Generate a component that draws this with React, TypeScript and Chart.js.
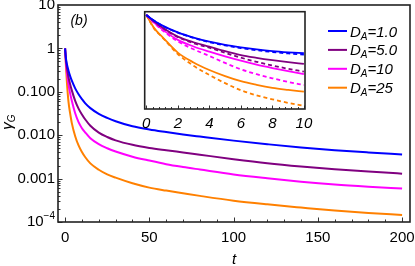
import React, { useEffect, useRef } from "react";
import { Chart, registerables } from "chart.js";
Chart.register(...registerables);

// ---------- data (main panel) ----------
const T_MAIN = [0, 0.5, 1, 2, 3, 4, 6, 8, 10, 12, 15, 20, 25, 30, 40, 50, 60, 70, 80, 100, 120, 140, 160, 180, 200];
const G_DA1 = [1, 0.6, 0.45, 0.31, 0.23, 0.18, 0.12, 0.088, 0.068, 0.054, 0.042, 0.031, 0.025, 0.021, 0.016, 0.0135, 0.0118, 0.0104, 0.0093, 0.0075, 0.0062, 0.0052, 0.0045, 0.004, 0.0036];
const G_DA5 = [1, 0.55, 0.38, 0.22, 0.15, 0.108, 0.062, 0.041, 0.03, 0.023, 0.0165, 0.0115, 0.0091, 0.0076, 0.006, 0.0051, 0.0045, 0.004, 0.00355, 0.0028, 0.00226, 0.0019, 0.00164, 0.00146, 0.0013];
const G_DA10 = [1, 0.48, 0.29, 0.15, 0.092, 0.062, 0.032, 0.02, 0.0145, 0.0115, 0.0085, 0.0062, 0.005, 0.0042, 0.0032, 0.0026, 0.00215, 0.00185, 0.00162, 0.00125, 0.00102, 0.00085, 0.00073, 0.00065, 0.00059];
const G_DA25 = [1, 0.4, 0.186, 0.06, 0.032, 0.019, 0.0095, 0.0058, 0.0041, 0.0031, 0.00224, 0.0016, 0.00125, 0.00105, 0.00078, 0.00062, 0.00053, 0.00046, 0.0004, 0.00031, 0.000255, 0.000215, 0.000183, 0.000161, 0.000145];

// ---------- data (inset) ----------
const T_INSET = [0, 0.5, 1, 2, 3, 4, 5, 6, 7, 8, 9, 10];
const IN_DA1_SOLID = [1, 0.94, 0.89, 0.815, 0.76, 0.716, 0.682, 0.656, 0.634, 0.616, 0.603, 0.593];
const IN_DA1_DASH = [1, 0.94, 0.888, 0.812, 0.756, 0.711, 0.676, 0.648, 0.625, 0.606, 0.591, 0.578];
const IN_DA5_SOLID = [1, 0.93, 0.87, 0.77, 0.71, 0.663, 0.615, 0.574, 0.545, 0.52, 0.498, 0.479];
const IN_DA5_DASH = [1, 0.93, 0.865, 0.765, 0.7, 0.652, 0.597, 0.546, 0.502, 0.463, 0.428, 0.397];
const IN_DA10_SOLID = [1, 0.92, 0.85, 0.735, 0.665, 0.61, 0.56, 0.514, 0.472, 0.436, 0.403, 0.372];
const IN_DA10_DASH = [1, 0.915, 0.84, 0.72, 0.635, 0.564, 0.49, 0.422, 0.37, 0.327, 0.288, 0.255];
const IN_DA25_SOLID = [1, 0.86, 0.77, 0.6, 0.495, 0.415, 0.35, 0.296, 0.257, 0.225, 0.203, 0.184];
const IN_DA25_DASH = [1, 0.855, 0.765, 0.585, 0.46, 0.362, 0.275, 0.2, 0.145, 0.103, 0.065, 0.035];

// ---------- labels / ticks ----------
const DA_VALUES = ["1.0", "5.0", "10", "25"];
const COLORS = ["#0000ff", "#800080", "#ff00ff", "#ff8000"];
const X_TICKS = [0, 50, 100, 150, 200];
const Y_TICKS = [1e-4, 1e-3, 1e-2, 0.1, 1, 10];
const Y_TICK_LABELS = ["", "0.001", "0.010", "0.100", "1", "10"];
const INSET_X_TICKS = [0, 2, 4, 6, 8, 10];

const FONT = "'Liberation Sans', Arial, Helvetica, sans-serif";

function pts(xs: number[], ys: number[]) {
  return xs.map((x, i) => ({ x, y: ys[i] }));
}

const mainDecor = {
  id: "mainDecor",
  afterDraw(chart: any) {
    const { ctx, chartArea: a, scales } = chart;
    const xs = scales.x;
    const ys = scales.y;
    ctx.save();
    // inward ticks
    ctx.strokeStyle = "#333";
    ctx.lineWidth = 1;
    ctx.beginPath();
    for (let v = 0; v <= 200; v += 10) {
      const px = Math.round(xs.getPixelForValue(v)) + 0.5;
      const len = v % 50 === 0 ? 4.5 : 2.5;
      ctx.moveTo(px, a.bottom);
      ctx.lineTo(px, a.bottom - len);
    }
    for (let e = -4; e <= 0; e++) {
      for (let m = 1; m <= 9; m++) {
        const v = m * Math.pow(10, e);
        const py = Math.round(ys.getPixelForValue(v)) + 0.5;
        const len = m === 1 ? 4.5 : 2.5;
        ctx.moveTo(a.left, py);
        ctx.lineTo(a.left + len, py);
      }
    }
    ctx.stroke();
    // frame
    ctx.lineWidth = 1.6;
    ctx.strokeStyle = "#222";
    ctx.strokeRect(a.left, a.top, a.right - a.left, a.bottom - a.top);

    // 10^-4 label
    ctx.fillStyle = "#000";
    ctx.textBaseline = "middle";
    ctx.textAlign = "left";
    const py4 = ys.getPixelForValue(1e-4);
    ctx.font = `15px ${FONT}`;
    const w1 = ctx.measureText("10").width;
    ctx.font = `10px ${FONT}`;
    const w2 = ctx.measureText("\u22124").width;
    const x0 = a.left - 3 - w1 - w2;
    ctx.font = `15px ${FONT}`;
    ctx.fillText("10", x0, py4);
    ctx.font = `10px ${FONT}`;
    ctx.fillText("\u22124", x0 + w1, py4 - 6);

    // y-axis title gamma_G
    ctx.save();
    ctx.translate(12, 122);
    ctx.rotate(-Math.PI / 2);
    ctx.textBaseline = "alphabetic";
    ctx.font = `italic 15px ${FONT}`;
    const gw = ctx.measureText("\u03b3").width;
    ctx.font = `italic 10px ${FONT}`;
    const sw = ctx.measureText("G").width;
    const sx = -(gw + sw) / 2;
    ctx.font = `italic 15px ${FONT}`;
    ctx.fillText("\u03b3", sx, 0);
    ctx.font = `italic 10px ${FONT}`;
    ctx.fillText("G", sx + gw, 3);
    ctx.restore();

    // panel label
    ctx.font = `italic 14px ${FONT}`;
    ctx.textAlign = "center";
    ctx.textBaseline = "middle";
    ctx.fillText("(b)", 79, 21);

    // legend
    ctx.textAlign = "left";
    ctx.textBaseline = "alphabetic";
    for (let i = 0; i < DA_VALUES.length; i++) {
      const cy = 31 + i * 18.9;
      ctx.strokeStyle = COLORS[i];
      ctx.lineWidth = 2;
      ctx.beginPath();
      ctx.moveTo(328, cy);
      ctx.lineTo(347, cy);
      ctx.stroke();
      ctx.fillStyle = "#000";
      const base = cy + 5.5;
      let tx = 350;
      ctx.font = `italic 15px ${FONT}`;
      ctx.fillText("D", tx, base);
      tx += ctx.measureText("D").width;
      ctx.font = `italic 10px ${FONT}`;
      ctx.fillText("A", tx, base + 3);
      tx += ctx.measureText("A").width;
      ctx.font = `italic 15px ${FONT}`;
      ctx.fillText("=" + DA_VALUES[i], tx, base);
    }
    ctx.restore();
  },
};

const insetDecor = {
  id: "insetDecor",
  afterDraw(chart: any) {
    const { ctx, chartArea: a, scales } = chart;
    const xs = scales.x;
    ctx.save();
    ctx.strokeStyle = "#333";
    ctx.lineWidth = 1;
    ctx.beginPath();
    for (let k = 0; k <= 25; k++) {
      const v = k * 0.4;
      const px = Math.round(xs.getPixelForValue(v)) + 0.5;
      const len = k % 5 === 0 ? 3.5 : 2;
      ctx.moveTo(px, a.bottom);
      ctx.lineTo(px, a.bottom - len);
    }
    ctx.stroke();
    ctx.lineWidth = 1.6;
    ctx.strokeStyle = "#222";
    ctx.strokeRect(a.left, a.top, a.right - a.left, a.bottom - a.top);
    ctx.restore();
  },
};

const insetBg = {
  id: "insetBg",
  beforeDraw(chart: any) {
    const { ctx, chartArea: a } = chart;
    ctx.save();
    ctx.fillStyle = "#fff";
    ctx.fillRect(a.left, a.top, a.right - a.left, a.bottom - a.top);
    ctx.restore();
  },
};

export default function App() {
  const mainRef = useRef<HTMLCanvasElement>(null);
  const insetRef = useRef<HTMLCanvasElement>(null);

  useEffect(() => {
    const mainSeries = [G_DA1, G_DA5, G_DA10, G_DA25];
    const main = new Chart(mainRef.current as HTMLCanvasElement, {
      type: "line",
      data: {
        datasets: mainSeries.map((s, i) => ({
          label: "D_A=" + DA_VALUES[i],
          data: pts(T_MAIN, s),
          borderColor: COLORS[i],
          borderWidth: 2,
          pointRadius: 0,
          fill: false,
          cubicInterpolationMode: "monotone" as const,
        })),
      },
      options: {
        animation: false,
        responsive: false,
        devicePixelRatio: 1,
        layout: { padding: { left: 0, top: 5, right: 5, bottom: 0 } },
        plugins: { legend: { display: false }, tooltip: { enabled: false } },
        scales: {
          x: {
            type: "linear",
            min: -4.2,
            max: 204.7,
            grid: { display: false, drawTicks: false },
            border: { display: false },
            afterBuildTicks: (s: any) => {
              s.ticks = X_TICKS.map((v) => ({ value: v }));
            },
            afterFit: (s: any) => {
              s.height = 44;
              s.paddingLeft = 0;
              s.paddingRight = 0;
            },
            ticks: {
              padding: 7,
              color: "#000",
              font: { family: FONT, size: 15 },
              maxRotation: 0,
              callback: (v: any) => String(v),
            },
            title: {
              display: true,
              text: "t",
              color: "#000",
              font: { family: FONT, size: 15, style: "italic", lineHeight: 0.8 },
              padding: { top: 0, bottom: 0 },
            },
          },
          y: {
            type: "logarithmic",
            min: 1e-4,
            max: 10,
            grid: { display: false, drawTicks: false },
            border: { display: false },
            afterBuildTicks: (s: any) => {
              s.ticks = Y_TICKS.map((v) => ({ value: v }));
            },
            afterFit: (s: any) => {
              s.width = 58;
              s.paddingTop = 0;
              s.paddingBottom = 0;
            },
            ticks: {
              padding: 3,
              color: "#000",
              font: { family: FONT, size: 15 },
              callback: (v: any) => {
                const idx = Y_TICKS.findIndex((t) => Math.abs(t - v) / t < 1e-6);
                return idx >= 0 ? Y_TICK_LABELS[idx] : "";
              },
            },
          },
        },
      },
      plugins: [mainDecor],
    } as any);

    const insetSolid = [IN_DA1_SOLID, IN_DA5_SOLID, IN_DA10_SOLID, IN_DA25_SOLID];
    const insetDash = [IN_DA1_DASH, IN_DA5_DASH, IN_DA10_DASH, IN_DA25_DASH];
    const insetSets: any[] = [];
    for (let i = 0; i < 4; i++) {
      insetSets.push({
        data: pts(T_INSET, insetDash[i]),
        borderColor: COLORS[i],
        borderWidth: 1.8,
        borderDash: [4, 3],
        pointRadius: 0,
        fill: false,
        cubicInterpolationMode: "monotone",
      });
      insetSets.push({
        data: pts(T_INSET, insetSolid[i]),
        borderColor: COLORS[i],
        borderWidth: 1.8,
        pointRadius: 0,
        fill: false,
        cubicInterpolationMode: "monotone",
      });
    }
    const inset = new Chart(insetRef.current as HTMLCanvasElement, {
      type: "line",
      data: { datasets: insetSets },
      options: {
        animation: false,
        responsive: false,
        devicePixelRatio: 1,
        layout: { padding: { left: 14.7, top: 11.7, right: 10, bottom: 0 } },
        plugins: { legend: { display: false }, tooltip: { enabled: false } },
        scales: {
          x: {
            type: "linear",
            min: -0.1,
            max: 10.07,
            grid: { display: false, drawTicks: false },
            border: { display: false },
            afterBuildTicks: (s: any) => {
              s.ticks = INSET_X_TICKS.map((v) => ({ value: v }));
            },
            afterFit: (s: any) => {
              s.height = 31;
              s.paddingLeft = 0;
              s.paddingRight = 0;
            },
            ticks: {
              padding: 6,
              color: "#000",
              font: { family: FONT, size: 15, style: "italic" },
              maxRotation: 0,
              callback: (v: any) => String(v),
            },
          },
          y: {
            type: "linear",
            min: 0,
            max: 1.035,
            display: false,
          },
        },
      },
      plugins: [insetBg, insetDecor],
    } as any);

    return () => {
      main.destroy();
      inset.destroy();
    };
  }, []);

  return (
    <div style={{ position: "fixed", left: 0, top: 0, width: 415, height: 266, background: "#fff" }}>
      <canvas
        ref={mainRef}
        width={415}
        height={266}
        style={{ position: "absolute", left: 0, top: 0, width: 415, height: 266 }}
      />
      <canvas
        ref={insetRef}
        width={185}
        height={140}
        style={{ position: "absolute", left: 130, top: 0, width: 185, height: 140 }}
      />
    </div>
  );
}
